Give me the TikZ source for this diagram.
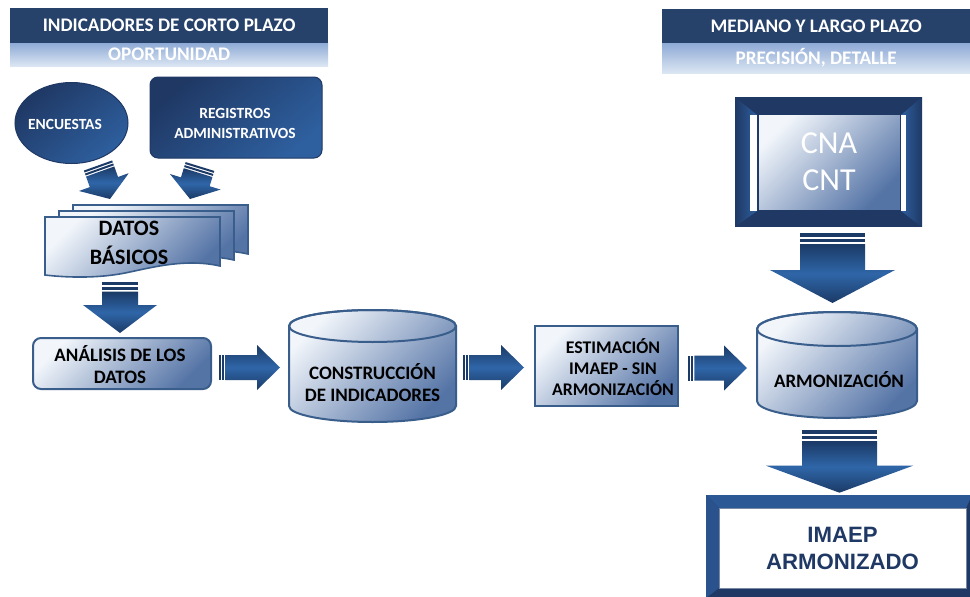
\documentclass[tikz,border=0pt]{standalone}
\usepackage{fontspec}
\setmainfont{Carlito}
\newfontfamily\arialf{Liberation Sans}
\usetikzlibrary{shapes.geometric,calc}
\definecolor{hdark}{HTML}{26416A}
\definecolor{hlightA}{HTML}{8FABD6}
\definecolor{hlightB}{HTML}{DCE6F3}
\definecolor{navy}{HTML}{1F3864}
\definecolor{navyB}{HTML}{2E5F9E}
\definecolor{boxA}{HTML}{F2F6FB}
\definecolor{boxB}{HTML}{5574A6}
\definecolor{boxline}{HTML}{3A5E8C}
\definecolor{arrD}{HTML}{1B3A66}
\definecolor{arrL}{HTML}{2F66A8}
\tikzset{
  hdrtext/.style={text=white, font=\bfseries\fontsize{19.2}{22}\selectfont, inner sep=0pt},
  darkband/.style={fill=hdark},
  lightband/.style={top color=hlightA, bottom color=hlightB},
  lightbox/.style={draw=boxline, line width=2pt, top color=boxA, bottom color=boxB, shading angle=45},
  darkshape/.style={draw=navy, line width=1pt, top color=navy, bottom color=navyB, shading angle=40},
  boxtext/.style={text=black, font=\bfseries\fontsize{19}{22}\selectfont, align=center, inner sep=0pt},
  whitetext/.style={text=white, font=\bfseries\fontsize{15.5}{20}\selectfont, align=center, inner sep=0pt},
  anchorbox/.style={inner sep=0pt, outer sep=0pt},
  arrowbody/.style={top color=arrD, bottom color=arrD, middle color=arrL},
  arrowbar/.style={fill=arrD},
}
\newcommand\barrow[6]{%
\path let \p1=#1, \p2=#2 in \pgfextra{%
 \pgfmathsetmacro\tmpa{atan2(\y2-\y1,\x2-\x1)}\xdef\baang{\tmpa}%
 \pgfmathsetmacro\tmpa{veclen(\x2-\x1,\y2-\y1)}\xdef\balen{\tmpa}%
 \pgfmathsetmacro\tmpa{\x1}\xdef\bax{\tmpa}%
 \pgfmathsetmacro\tmpa{\y1}\xdef\bay{\tmpa}%
 \pgfmathsetmacro\tmpa{\balen-#5}\xdef\baneck{\tmpa}%
 \pgfmathsetmacro\tmpa{#6*1.6}\xdef\baa{\tmpa}%
 \pgfmathsetmacro\tmpa{#6*2.6}\xdef\bab{\tmpa}%
 \pgfmathsetmacro\tmpa{#6*3.2}\xdef\bac{\tmpa}%
};
\begin{scope}[shift={(\bax pt,\bay pt)}, rotate=\baang]
 \fill[arrowbar] (0pt,-#3pt) rectangle (#6pt,#3pt);
 \fill[arrowbar] (\baa pt,-#3pt) rectangle (\bab pt,#3pt);
 \shade[arrowbody] (\bac pt,-#3pt) -- (\baneck pt,-#3pt) -- (\baneck pt,-#4pt) -- (\balen pt,0pt)
   -- (\baneck pt,#4pt) -- (\baneck pt,#3pt) -- (\bac pt,#3pt) -- cycle;
\end{scope}}
\begin{document}
\begin{tikzpicture}[x=1pt,y=-1pt]
\useasboundingbox[fill=white] (0,0) rectangle (970,597);

% headers
\node[darkband, hdrtext, minimum width=318pt, minimum height=35pt, anchor=north west] (hL) at (10,8) {INDICADORES DE CORTO PLAZO};
\node[lightband, hdrtext, minimum width=318pt, minimum height=23pt, anchor=north west] (hLs) at (10,43) {OPORTUNIDAD};
\node[darkband, hdrtext, minimum width=308pt, minimum height=34pt, anchor=north west] (hR) at (662,9) {MEDIANO Y LARGO PLAZO};
\node[lightband, hdrtext, minimum width=308pt, minimum height=30pt, anchor=north west] (hRs) at (662,43) {PRECISIÓN, DETALLE};

% sources
\node[ellipse, darkshape, minimum width=113pt, minimum height=81pt, inner sep=0pt] (encuestas) at (71.5,123) {};
\node[whitetext] (enct) at (65,124) {ENCUESTAS};
\node[rectangle, rounded corners=8pt, darkshape, minimum width=172pt, minimum height=81pt] (registros) at (236,117.5) {};
\node[whitetext] (regt) at (235,123) {REGISTROS\\ADMINISTRATIVOS};

% datos basicos (stacked documents)
\foreach \dx/\dy in {28/-12, 14/-6, 0/0}{
  \shade[lightbox, line width=1.6pt] ([shift={(\dx,\dy)}]45,217) -- ([shift={(\dx,\dy)}]220,217) -- ([shift={(\dx,\dy)}]220,266)
    .. controls ([shift={(\dx,\dy)}]185,258) and ([shift={(\dx,\dy)}]150,268) .. ([shift={(\dx,\dy)}]125,273)
    .. controls ([shift={(\dx,\dy)}]100,278) and ([shift={(\dx,\dy)}]70,278) .. ([shift={(\dx,\dy)}]45,275) -- cycle;
}
\node[anchorbox, minimum width=175pt, minimum height=60pt] (datos) at (132.5,247) {};
\node[boxtext, font=\bfseries\fontsize{22}{29}\selectfont] (datost) at (129,243) {DATOS\\BÁSICOS};

% analisis
\node[lightbox, rounded corners=8pt, minimum width=178pt, minimum height=51pt] (analisis) at (122,363.5) {};
\node[boxtext] (analisist) at (120,365) {ANÁLISIS DE LOS\\DATOS};

% construccion cylinder
\shade[lightbox] (289,326) -- (289,406) arc[start angle=180, end angle=0, x radius=83.5, y radius=16] -- (456,326) arc[start angle=0, end angle=-180, x radius=83.5, y radius=16] -- cycle;
\draw[boxline, line width=2pt] (372.5,326) ellipse[x radius=83.5, y radius=16];
\node[anchorbox, minimum width=167pt, minimum height=112pt] (construccion) at (372.5,366) {};
\node[boxtext] (construcciont) at (372.5,383) {CONSTRUCCIÓN\\DE INDICADORES};

% estimacion
\node[lightbox, minimum width=143pt, minimum height=80pt] (estimacion) at (606.5,366) {};
\node[boxtext, font=\bfseries\fontsize{17.8}{21}\selectfont] (estimaciont) at (613,367) {ESTIMACIÓN\\IMAEP - SIN\\ARMONIZACIÓN};

% armonizacion cylinder
\shade[lightbox] (757,329) -- (757,401) arc[start angle=180, end angle=0, x radius=80, y radius=17] -- (917,329) arc[start angle=0, end angle=-180, x radius=80, y radius=17] -- cycle;
\draw[boxline, line width=2pt] (837,329) ellipse[x radius=80, y radius=17];
\node[anchorbox, minimum width=160pt, minimum height=106pt] (armonizacion) at (837,365) {};
\node[boxtext] (armonizaciont) at (839,380) {ARMONIZACIÓN};

% CNA CNT frame
\fill[navy] (735,97) rectangle (922,227);
\shade[left color=navy, right color=navyB] (735,97) -- (757,115) -- (757,211) -- (735,227) -- cycle;
\shade[left color=navyB, right color=navy] (922,97) -- (901,115) -- (901,211) -- (922,227) -- cycle;
\fill[white] (750,115) rectangle (757,211);
\fill[white] (901,115) rectangle (906,211);
\node[draw=navy, line width=1pt, top color=boxA, bottom color=boxB, shading angle=45, minimum width=142pt, minimum height=96pt, inner sep=0pt,
  text=white, font=\fontsize{32}{37}\selectfont, align=center] (cna) at (829,162) {CNA\\CNT};
\node[anchorbox, minimum width=187pt, minimum height=130pt] (cnaframe) at (828.5,162) {};

% IMAEP armonizado frame
\fill[navy] (706,495) rectangle (972,598);
\fill[navyB!85!navy] (706,495) -- (972,495) -- (966,508) -- (719,508) -- cycle;
\fill[navyB!70!navy] (706,495) -- (719,508) -- (719,588) -- (706,598) -- cycle;
\node[fill=white, draw=navy!60, line width=0.6pt, minimum width=247pt, minimum height=80pt, inner sep=0pt,
  text=navy, font=\arialf\bfseries\fontsize{22.2}{27}\selectfont, align=center] (imaep) at (842.5,548) {IMAEP\\ARMONIZADO};

% block arrows (connectors)
\barrow{($(encuestas.south)+(26.5,1.5)$)}{($(datos.north)+(-22.5,-18)$)}{15}{26.5}{18}{2}
\barrow{($(registros.south)+(-36,8)$)}{($(datos.north)+(57.5,-18)$)}{15}{26.5}{18}{2}
\barrow{($(datos.south)+(-12.5,5)$)}{($(analisis.north)+(-2,-4)$)}{18}{37}{28}{3}
\barrow{($(analisis.east)+(7,4)$)}{($(construccion.west)+(-9,1.5)$)}{12.5}{22.5}{23}{2}
\barrow{($(construccion.east)+(7,1.5)$)}{($(estimacion.west)+(-10,1.5)$)}{12.5}{22.5}{23}{2}
\barrow{($(estimacion.east)+(9,2)$)}{($(armonizacion.west)+(-10,3)$)}{12.5}{22.5}{23}{2}
\barrow{($(cnaframe.south)+(4,6)$)}{($(armonizacion.north)+(-4.5,-9)$)}{32.5}{62.5}{33}{3.5}
\barrow{($(armonizacion.south)+(2.5,12)$)}{($(imaep.north)+(-3,-15)$)}{37.5}{73.5}{27}{3.5}
\end{tikzpicture}
\end{document}
